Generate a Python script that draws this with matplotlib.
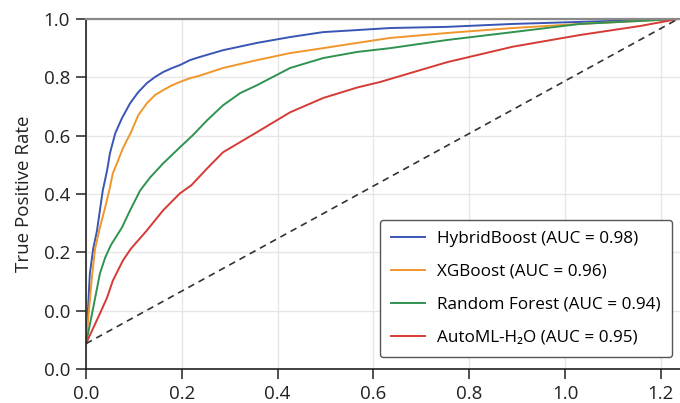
import numpy as np
import matplotlib
matplotlib.use("Agg")
import matplotlib.pyplot as plt

plt.rcParams['font.family'] = ['Open Sans', 'DejaVu Sans']

# curve points (x = false positive axis, y = true positive axis)
hb_x = [0, 0.004, 0.008, 0.015, 0.023, 0.029, 0.035, 0.044, 0.050, 0.061, 0.075, 0.092,
        0.109, 0.127, 0.144, 0.161, 0.180, 0.196, 0.217, 0.236, 0.286, 0.357, 0.426,
        0.495, 0.566, 0.635, 0.754, 0.891, 1.031, 1.236]
hb_y = [-0.113, 0.0, 0.127, 0.213, 0.275, 0.344, 0.412, 0.481, 0.540, 0.608, 0.660, 0.711,
        0.749, 0.780, 0.801, 0.818, 0.832, 0.842, 0.859, 0.869, 0.893, 0.918, 0.938,
        0.955, 0.962, 0.969, 0.973, 0.983, 0.990, 1.0]

xgb_x = [0, 0.006, 0.013, 0.019, 0.029, 0.040, 0.050, 0.056, 0.067, 0.077, 0.094, 0.109,
         0.127, 0.144, 0.161, 0.180, 0.196, 0.217, 0.236, 0.286, 0.357, 0.426, 0.495,
         0.566, 0.635, 0.754, 0.891, 1.031, 1.236]
xgb_y = [-0.113, 0.0, 0.127, 0.213, 0.285, 0.354, 0.423, 0.471, 0.515, 0.557, 0.612, 0.670,
         0.711, 0.739, 0.756, 0.773, 0.784, 0.797, 0.805, 0.832, 0.859, 0.883, 0.900,
         0.918, 0.935, 0.952, 0.969, 0.983, 1.0]

rf_x = [0, 0.015, 0.029, 0.040, 0.052, 0.075, 0.092, 0.113, 0.134, 0.161, 0.196, 0.222,
        0.253, 0.286, 0.322, 0.357, 0.426, 0.495, 0.566, 0.635, 0.754, 0.891, 1.031, 1.236]
rf_y = [-0.113, 0.010, 0.127, 0.182, 0.225, 0.285, 0.344, 0.412, 0.457, 0.505, 0.560, 0.600,
        0.653, 0.704, 0.746, 0.773, 0.832, 0.866, 0.887, 0.900, 0.928, 0.955, 0.983, 1.0]

h2o_x = [0, 0.029, 0.044, 0.056, 0.077, 0.094, 0.127, 0.161, 0.196, 0.220, 0.253, 0.286,
         0.357, 0.426, 0.495, 0.566, 0.614, 0.754, 0.891, 1.031, 1.157, 1.236]
h2o_y = [-0.113, -0.010, 0.045, 0.103, 0.172, 0.213, 0.275, 0.344, 0.402, 0.430, 0.488, 0.543,
         0.612, 0.680, 0.729, 0.765, 0.784, 0.852, 0.905, 0.945, 0.976, 1.0]

chance_x = [0, 1.236]
chance_y = [-0.113, 1.0]

labels = ['HybridBoost (AUC = 0.98)', 'XGBoost (AUC = 0.96)',
          'Random Forest (AUC = 0.94)', 'AutoML-H\u2082O (AUC = 0.95)']
colors = ['#3a55b4', '#f0962a', '#2f9350', '#d63a34']

yticks = [-0.2, 0.0, 0.2, 0.4, 0.6, 0.8, 1.0]
ytick_labels = ['0.0', '0.0', '0.2', '0.4', '0.6', '0.8', '1.0']
xticks = [0.0, 0.2, 0.4, 0.6, 0.8, 1.0, 1.2]

fig = plt.figure(figsize=(6.8, 4.03), dpi=100)
ax = fig.add_axes([0.1265, 0.0844, 0.8735, 0.8685])

for xs, ys, lab, c in zip([hb_x, xgb_x, rf_x, h2o_x], [hb_y, xgb_y, rf_y, h2o_y], labels, colors):
    ax.plot(xs, ys, color=c, lw=1.4, label=lab)
ax.plot(chance_x, chance_y, color='#333333', lw=1.2, ls=(0, (4, 3)))

ax.set_xlim(0, 1.24)
ax.set_ylim(-0.2, 1.0)
ax.set_xticks(xticks)
ax.set_xticklabels([f'{v:.1f}' for v in xticks])
ax.set_yticks(yticks)
ax.set_yticklabels(ytick_labels)
ax.tick_params(labelsize=13.5, length=7.5, width=1.1, direction='out', colors='#222222', pad=4)
ax.grid(True, color='#e6e6e6', lw=1)
ax.set_axisbelow(True)

ax.spines['left'].set_color('#222222')
ax.spines['bottom'].set_color('#222222')
ax.spines['left'].set_linewidth(1.2)
ax.spines['bottom'].set_linewidth(1.2)
ax.spines['top'].set_color('#8a8a8a')
ax.spines['top'].set_linewidth(1.6)
ax.spines['right'].set_visible(False)

ax.set_ylabel('True Positive Rate', fontsize=13.5, color='#222222', labelpad=8)

leg = ax.legend(loc='lower right', bbox_to_anchor=(0.9865, 0.034), borderaxespad=0,
                fontsize=12.3, frameon=True, fancybox=True, edgecolor='#555555',
                labelspacing=1.0, handlelength=2.0, handletextpad=0.7, borderpad=0.65,
                framealpha=1)
leg.get_frame().set_linewidth(1.0)

fig.savefig('out.png', dpi=100)
